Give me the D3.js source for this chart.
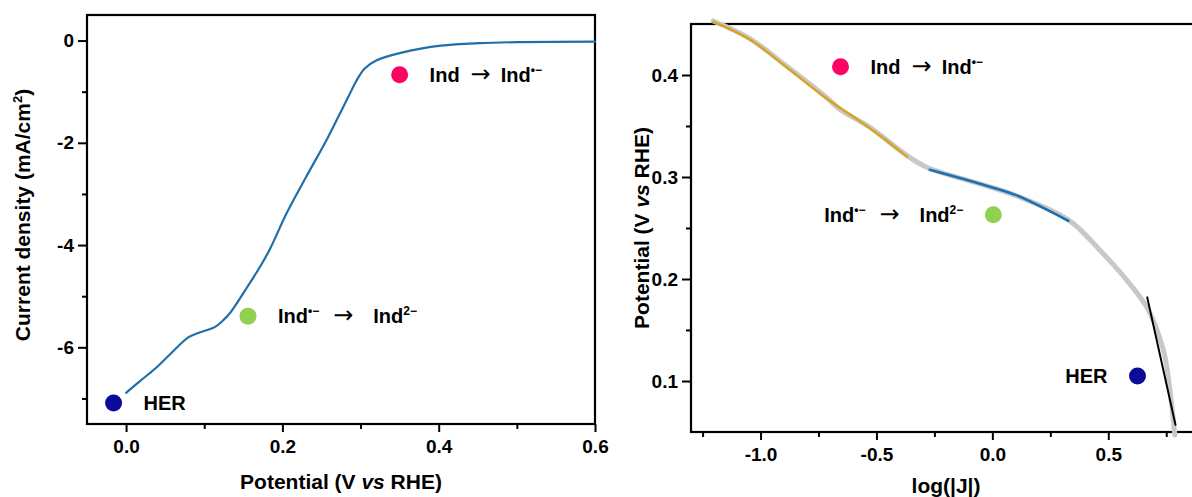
<!DOCTYPE html>
<html><head><meta charset="utf-8">
<script src="https://cdn.jsdelivr.net/npm/d3@7/dist/d3.min.js"></script>
<style>
body{margin:0;background:#fff}
svg text{font-family:"Liberation Sans",Arial,sans-serif;font-weight:bold;fill:#000}
</style></head><body>
<svg id="c" width="1192" height="497"></svg>
<script>
// ---------- data ----------
const lsvPotential = [0.000, 0.017, 0.037, 0.056, 0.080, 0.094, 0.114, 0.123, 0.133, 0.153, 0.172, 0.184, 0.206, 0.231, 0.255, 0.270, 0.285, 0.295, 0.305, 0.320, 0.354, 0.403, 0.452, 0.502, 0.600];
const lsvCurrent   = [-6.89, -6.67, -6.42, -6.14, -5.80, -5.71, -5.60, -5.49, -5.33, -4.87, -4.41, -4.08, -3.36, -2.65, -1.99, -1.54, -1.08, -0.78, -0.55, -0.39, -0.23, -0.10, -0.05, -0.03, -0.02];

const tafelLogJ      = [-1.204, -1.048, -0.884, -0.721, -0.655, -0.524, -0.368, -0.278, -0.065, 0.099, 0.328, 0.465, 0.590, 0.672, 0.738, 0.762, 0.787];
const tafelPotential = [0.453, 0.436, 0.408, 0.379, 0.366, 0.348, 0.321, 0.309, 0.294, 0.282, 0.258, 0.228, 0.196, 0.170, 0.130, 0.098, 0.047];

const fit1LogJ      = [-1.204, -1.048, -0.884, -0.721, -0.524, -0.368];
const fit1Potential = [0.452, 0.435, 0.407, 0.378, 0.347, 0.320];
const fit2LogJ      = [-0.270, -0.065, 0.099, 0.328];
const fit2Potential = [0.307, 0.294, 0.2825, 0.257];
const herFitLogJ      = [0.668, 0.790];
const herFitPotential = [0.182, 0.057];

const leftMarkerX = [-0.016, 0.156, 0.350];
const leftMarkerY = [-7.09, -5.39, -0.67];
const rightMarkerX = [0.626, 0.004, -0.655];
const rightMarkerY = [0.105, 0.263, 0.408];
const markerNames = ["HER", "Ind•− → Ind2−", "Ind → Ind•−"];
const markerColors = ["#0b0b99", "#92d050", "#fb0463"];

const leftXTicks = [0, 0.2, 0.4, 0.6];
const leftXTickLabels = ["0.0", "0.2", "0.4", "0.6"];
const leftXMinor = [0.1, 0.3, 0.5];
const leftYTicks = [0, -2, -4, -6];
const leftYTickLabels = ["0", "-2", "-4", "-6"];
const leftYMinor = [-1, -3, -5, -7];
const rightXTicks = [-1.0, -0.5, 0.0, 0.5];
const rightXTickLabels = ["-1.0", "-0.5", "0.0", "0.5"];
const rightXMinor = [-1.25, -0.75, -0.25, 0.25, 0.75];
const rightYTicks = [0.1, 0.2, 0.3, 0.4];
const rightYTickLabels = ["0.1", "0.2", "0.3", "0.4"];
const rightYMinor = [0.15, 0.25, 0.35];

// ---------- drawing ----------
const svg = d3.select("#c");
const TICKFONT = 19, TITLEFONT = 21, LABELFONT = 20;

const xL = d3.scaleLinear().domain([-0.05, 0.6]).range([87, 595]);
const yL = d3.scaleLinear().domain([-7.5, 0.5]).range([424, 15]);
const xR = d3.scaleLinear().domain([-1.3, 0.9]).range([691, 1201]);
const yR = d3.scaleLinear().domain([0.05, 0.45]).range([432, 24]);

function styleAxis(g){
  g.select(".domain").remove();
  g.selectAll(".tick line").attr("stroke","#000").attr("stroke-width",2);
  g.selectAll(".tick text").style("font-size",TICKFONT+"px").attr("fill","#000");
}
function axes(x, y, xt, xtl, xm, yt, ytl, ym){
  const [x0,x1] = x.range(), [y0,y1] = y.range();
  svg.append("g").attr("transform",`translate(0,${y0})`)
    .call(d3.axisBottom(x).tickValues(xt).tickFormat((d,i)=>xtl[i]).tickSize(8).tickPadding(8)).call(styleAxis);
  svg.append("g").attr("transform",`translate(0,${y0})`)
    .call(d3.axisBottom(x).tickValues(xm).tickFormat("").tickSize(5)).call(styleAxis);
  svg.append("g").attr("transform",`translate(${x0},0)`)
    .call(d3.axisLeft(y).tickValues(yt).tickFormat((d,i)=>ytl[i]).tickSize(9).tickPadding(4)).call(styleAxis);
  svg.append("g").attr("transform",`translate(${x0},0)`)
    .call(d3.axisLeft(y).tickValues(ym).tickFormat("").tickSize(5)).call(styleAxis);
  svg.append("rect").attr("x",x0).attr("y",y1).attr("width",x1-x0).attr("height",y0-y1)
    .attr("fill","none").attr("stroke","#000").attr("stroke-width",2.2);
}

function path(x, y, xs, ys, color, w){
  const pts = xs.map((v,i)=>[v, ys[i]]);
  svg.append("path").datum(pts)
    .attr("d", d3.line().x(d=>x(d[0])).y(d=>y(d[1])).curve(d3.curveCatmullRom.alpha(0.5)))
    .attr("fill","none").attr("stroke",color).attr("stroke-width",w)
    .attr("stroke-linecap","round").attr("stroke-linejoin","round");
}

function label(cx, cy, name, side){
  const t = svg.append("text").attr("y", cy).attr("dy","0.36em")
    .attr("x", side === "right" ? cx + 30 : cx - 30)
    .attr("text-anchor", side === "right" ? "start" : "end")
    .style("font-size", LABELFONT+"px");
  const sup = (s)=>{ t.append("tspan").attr("dy",-8).style("font-size","12px").text(s); return 8; };
  const arrow = (dx, dy)=> t.append("tspan").attr("dx",dx).attr("dy",dy||0)
      .style("font-family","'DejaVu Sans'").style("font-size","24px").style("font-weight","normal").text("→");
  if (name === "HER"){ t.text("HER"); return; }
  if (name === "Ind → Ind•−"){
    t.append("tspan").text("Ind");
    arrow(11);
    t.append("tspan").attr("dx",10).text("Ind");
    sup("•−");
  } else {
    t.append("tspan").text("Ind");
    const back = sup("•−");
    arrow(14, back);
    t.append("tspan").attr("dx",20).text("Ind");
    sup("2−");
  }
}

// left panel
axes(xL, yL, leftXTicks, leftXTickLabels, leftXMinor, leftYTicks, leftYTickLabels, leftYMinor);
path(xL, yL, lsvPotential, lsvCurrent, "#1f70aa", 2.2);
leftMarkerX.forEach((v,i)=>{
  svg.append("circle").attr("cx",xL(v)).attr("cy",yL(leftMarkerY[i])).attr("r",8.5).attr("fill",markerColors[i]);
  label(xL(v), yL(leftMarkerY[i]), markerNames[i], "right");
});

// right panel
axes(xR, yR, rightXTicks, rightXTickLabels, rightXMinor, rightYTicks, rightYTickLabels, rightYMinor);
path(xR, yR, tafelLogJ, tafelPotential, "#c8c8c8", 5);
path(xR, yR, fit1LogJ, fit1Potential, "#d9a31f", 2.4);
path(xR, yR, fit2LogJ, fit2Potential, "#1c6fb0", 2.6);
path(xR, yR, herFitLogJ, herFitPotential, "#000", 2);
rightMarkerX.forEach((v,i)=>{
  svg.append("circle").attr("cx",xR(v)).attr("cy",yR(rightMarkerY[i])).attr("r",8.5).attr("fill",markerColors[i]);
  label(xR(v), yR(rightMarkerY[i]), markerNames[i], i === 2 ? "right" : "left");
});

// axis titles
function title(x, y, rot, build){
  const t = svg.append("text").attr("text-anchor","middle").style("font-size",TITLEFONT+"px")
    .attr("transform",`translate(${x},${y}) rotate(${rot})`);
  build(t);
}
const potTitle = t=>{ t.append("tspan").text("Potential (V ");
  t.append("tspan").style("font-style","italic").text("vs");
  t.append("tspan").text(" RHE)"); };
title((xL.range()[0]+xL.range()[1])/2, 489, 0, potTitle);
title((xR.range()[0]+xR.range()[1])/2, 493, 0, t=>t.text("log(|J|)"));
title(30, 215, -90, t=>{ t.append("tspan").text("Current density (mA/cm");
  t.append("tspan").attr("dy",-8).style("font-size","13px").text("2");
  t.append("tspan").attr("dy",8).text(")"); });
title(649, 228, -90, potTitle);
</script>
</body></html>
